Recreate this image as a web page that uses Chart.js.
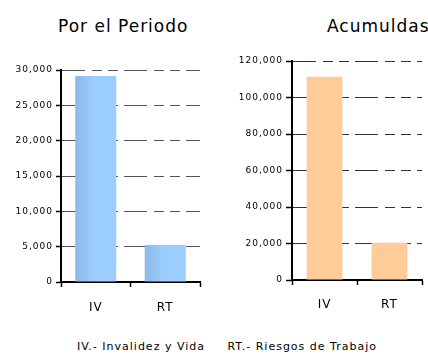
<!DOCTYPE html>
<html>
<head>
<meta charset="utf-8">
<script src="https://cdn.jsdelivr.net/npm/chart.js@4"></script>
<style>
  html, body { margin: 0; padding: 0; background: #fff; }
  body { width: 428px; height: 354px; position: relative; overflow: hidden; font-family: "DejaVu Sans", Verdana, sans-serif; color: #000; }
  .t { position: absolute; white-space: nowrap; letter-spacing: 1px; line-height: 13px; }
  #c1 { position: absolute; left: 0; top: 50px; }
  #c2 { position: absolute; left: 214px; top: 40px; }
</style>
</head>
<body>
<div class="t" id="title1" style="left:58px; top:16px; font-size:17px; line-height:20px;">Por el Periodo</div>
<div class="t" id="title2" style="left:327px; top:16px; font-size:17px; line-height:20px;">Acumuldas</div>
<canvas id="c1" width="214" height="270"></canvas>
<canvas id="c2" width="214" height="280"></canvas>
<div class="t" id="legend" style="left:77px; top:340px; font-size:11px;">IV.- Invalidez y Vida&nbsp;&nbsp;&nbsp;&nbsp;&nbsp;RT.- Riesgos de Trabajo</div>
<script>
// ---- data ----
const categories = ['IV', 'RT'];
const periodValues = [29150, 5240];
const accumValues = [111400, 20450];
const periodTickMax = 30000;
const periodTickStep = 5000;
const accumTickMax = 120000;
const accumTickStep = 20000;

const spacingPlugin = {
  id: 'spacing',
  beforeDraw(chart) { chart.ctx.letterSpacing = '1px'; }
};

const FONT = '"DejaVu Sans", Verdana, sans-serif';

function gradientBar(ctx, pct, dark, light) {
  const chart = ctx.chart;
  const xs = chart.scales.x;
  if (!xs || !chart.chartArea) return light;
  const center = xs.getPixelForValue(ctx.dataIndex);
  const half = (xs.width / categories.length) * pct / 2;
  const g = chart.ctx.createLinearGradient(center - half, 0, center + half, 0);
  g.addColorStop(0, dark);
  g.addColorStop(0.45, light);
  g.addColorStop(1, light);
  return g;
}

function makeChart(id, values, max, step, opts) {
  return new Chart(document.getElementById(id), {
    type: 'bar',
    data: {
      labels: categories,
      datasets: [{
        data: values,
        backgroundColor: opts.color,
        borderWidth: 0,
        barPercentage: opts.barPct,
        categoryPercentage: 1
      }]
    },
    plugins: [spacingPlugin],
    options: {
      responsive: false,
      animation: false,
      devicePixelRatio: 1,
      layout: { padding: { top: opts.padTop, right: opts.padRight, left: 0, bottom: 0 } },
      plugins: { legend: { display: false }, tooltip: { enabled: false }, title: { display: false } },
      scales: {
        x: {
          afterFit(s) { s.height = opts.xHeight; },
          grid: { display: true, drawOnChartArea: false, drawTicks: true, tickLength: 5, tickColor: '#000', tickWidth: 1.5, offset: true },
          border: { display: true, color: '#000', width: 2 },
          ticks: { color: '#000', font: { family: FONT, size: 12 }, padding: opts.xPad }
        },
        y: {
          min: 0, max: max,
          afterFit(s) { s.width = opts.yWidth; },
          grid: { color: opts.gridColor, lineWidth: 1, drawTicks: true, tickLength: opts.tickLen, tickColor: '#000', tickWidth: 1.5 },
          border: { display: true, color: '#000', width: 2, dash: [23, 7, 10, 6, 10, 6] },
          ticks: {
            stepSize: step,
            color: '#000',
            padding: 3,
            font: { family: FONT, size: 9 },
            callback: v => Number(v).toLocaleString('en-US')
          }
        }
      }
    }
  });
}

makeChart('c1', periodValues, periodTickMax, periodTickStep, {
  color: ctx => gradientBar(ctx, 0.59, '#8cb9e8', '#9bcdfe'),
  barPct: 0.59, padTop: 20, padRight: 14, xHeight: 38, yWidth: 61, xPad: 14, tickLen: 5, gridColor: '#555'
});
makeChart('c2', accumValues, accumTickMax, accumTickStep, {
  color: '#ffcc99',
  barPct: 0.55, padTop: 21, padRight: 6, xHeight: 40, yWidth: 78, xPad: 13, tickLen: 6, gridColor: '#333'
});
</script>
</body>
</html>
